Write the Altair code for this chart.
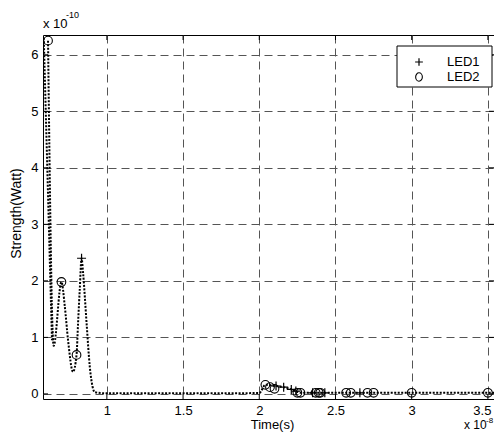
import altair as alt
import pandas as pd

# ---- data (x in 1e-8 s, y in 1e-10 W) ----
curve_x = [0.614, 0.651, 0.702, 0.724, 0.745, 0.778, 0.801, 0.811, 0.822, 0.834,
           0.844, 0.867, 0.888, 0.906, 0.921, 0.998, 1.5, 2.0, 2.04, 2.11,
           2.16, 2.21, 2.24, 2.27, 2.5, 3.0, 3.5, 3.566]
curve_y = [6.25, 0.85, 1.98, 1.55, 0.96, 0.39, 0.69, 1.25, 1.84, 2.40,
           2.14, 1.25, 0.48, 0.13, 0.03, 0.01, 0.01, 0.015, 0.16, 0.14,
           0.12, 0.08, 0.05, 0.02, 0.02, 0.02, 0.02, 0.02]
branch_x = [0.586, 0.640]
branch_y = [6.30, 0.95]

led1_x = [0.834, 2.11, 2.16, 2.21, 2.24, 2.35, 2.43, 2.66]
led1_y = [2.40, 0.14, 0.12, 0.08, 0.05, 0.02, 0.02, 0.02]
led2_x = [0.614, 0.702, 0.801, 2.04, 2.07, 2.10, 2.25, 2.27, 2.37, 2.39,
          2.40, 2.57, 2.60, 2.71, 2.75, 3.0, 3.5]
led2_y = [6.25, 1.98, 0.69, 0.16, 0.12, 0.09, 0.02, 0.02, 0.02, 0.02,
          0.02, 0.02, 0.02, 0.02, 0.02, 0.02, 0.02]

x_ticks = [1, 1.5, 2, 2.5, 3, 3.5]
y_ticks = [0, 1, 2, 3, 4, 5, 6]
legend_labels = ["LED1", "LED2"]
exp_labels = ["x 10", "-10", "-8"]
x_title = "Time(s)"
y_title = "Strength(Watt)"

W, H = 451, 364
FONT = "Liberation Sans"
PLUS = "M-1,0L1,0M0,-1L0,1"

xs = alt.Scale(domain=[0.581, 3.54], nice=False, zero=False)
ys = alt.Scale(domain=[-0.09, 6.35], nice=False, zero=False)

curve_df = pd.DataFrame({"x": curve_x, "y": curve_y})
branch_df = pd.DataFrame({"x": branch_x, "y": branch_y})
led1_df = pd.DataFrame({"x": led1_x, "y": led1_y})
led2_df = pd.DataFrame({"x": led2_x, "y": led2_y})
xt_df = pd.DataFrame({"x": x_ticks})
yt_df = pd.DataFrame({"y": y_ticks})

x_enc = alt.X("x:Q", scale=xs, title=x_title,
              axis=alt.Axis(values=x_ticks, labelExpr="datum.value + ''",
                            labelOffset={"condition": {"test": "datum.value === 3.5",
                                                       "value": -6}, "value": 0},
                            titleY=29, titleX=229, titleBaseline="alphabetic"))
y_enc = alt.Y("y:Q", scale=ys, title=y_title,
              axis=alt.Axis(values=y_ticks, format="d", titleX=-23,
                            titleY=178, titleBaseline="alphabetic",
                            titleFontSize=14))

line_style = dict(color="black", strokeWidth=2, strokeDash=[2, 1.5], clip=True)
curve = alt.Chart(curve_df).mark_line(interpolate="monotone", **line_style).encode(
    x=x_enc, y=y_enc)
branch = alt.Chart(branch_df).mark_line(**line_style).encode(
    x=alt.X("x:Q", scale=xs), y=alt.Y("y:Q", scale=ys))

led1 = alt.Chart(led1_df).mark_point(
    shape=PLUS, size=81, color="black", strokeWidth=1.2, filled=False, opacity=1
).encode(x=alt.X("x:Q", scale=xs), y=alt.Y("y:Q", scale=ys))

led2 = alt.Chart(led2_df).mark_point(
    shape="circle", size=75, color="black", strokeWidth=1.1, filled=False, opacity=1
).encode(x=alt.X("x:Q", scale=xs), y=alt.Y("y:Q", scale=ys))

# inward ticks on all four sides
tick_style = dict(color="black", strokeWidth=1)
xt_bottom = alt.Chart(xt_df).mark_rule(**tick_style).encode(
    x=alt.X("x:Q", scale=xs), y=alt.value(H), y2=alt.value(H - 5))
xt_top = alt.Chart(xt_df).mark_rule(**tick_style).encode(
    x=alt.X("x:Q", scale=xs), y=alt.value(0), y2=alt.value(5))
yt_left = alt.Chart(yt_df).mark_rule(**tick_style).encode(
    y=alt.Y("y:Q", scale=ys), x=alt.value(0), x2=alt.value(5))
yt_right = alt.Chart(yt_df).mark_rule(**tick_style).encode(
    y=alt.Y("y:Q", scale=ys), x=alt.value(W), x2=alt.value(W - 5))

# legend box
leg_df = pd.DataFrame({"label": legend_labels})
leg_box = alt.Chart(leg_df.head(1)).mark_rect(
    fill="white", stroke="black", strokeWidth=1
).encode(x=alt.value(354), x2=alt.value(449), y=alt.value(11), y2=alt.value(52))
leg_sym1 = alt.Chart(leg_df.head(1)).mark_point(
    shape=PLUS, size=60, color="black", strokeWidth=1.2, filled=False, opacity=1
).encode(x=alt.value(376), y=alt.value(27))
leg_sym2 = alt.Chart(leg_df.head(1)).mark_point(
    shape="M-0.8,0A0.8,1,0,1,1,0.8,0A0.8,1,0,1,1,-0.8,0Z", size=70,
    color="black", strokeWidth=1.1, filled=False, opacity=1
).encode(x=alt.value(376), y=alt.value(42))
leg_txt1 = alt.Chart(leg_df.iloc[[0]]).mark_text(
    font=FONT, fontSize=13, align="left", baseline="middle", color="black"
).encode(text="label:N", x=alt.value(404), y=alt.value(27))
leg_txt2 = alt.Chart(leg_df.iloc[[1]]).mark_text(
    font=FONT, fontSize=13, align="left", baseline="middle", color="black"
).encode(text="label:N", x=alt.value(404), y=alt.value(42))

# exponent annotations
exp_df = pd.DataFrame({"t": exp_labels})
def txt(i, x, y, size):
    return alt.Chart(exp_df.iloc[[i]]).mark_text(
        font=FONT, fontSize=size, align="left", baseline="alphabetic", color="black"
    ).encode(text="t:N", x=alt.value(x), y=alt.value(y))

exp_top = txt(0, 0, -7, 13) + txt(1, 23, -17, 9)
exp_bot = txt(0, 421, 394, 12) + txt(2, 443, 388, 8)

chart = alt.layer(
    curve, branch, led1, led2, xt_bottom, xt_top, yt_left, yt_right,
    leg_box, leg_sym1, leg_sym2, leg_txt1, leg_txt2, exp_top, exp_bot
).properties(
    width=W, height=H,
    autosize=alt.AutoSizeParams(type="none"),
    padding={"left": 35, "top": 27, "right": 0, "bottom": 33},
).configure_view(
    stroke="black", strokeWidth=1
).configure_axis(
    grid=True, gridColor="#555", gridDash=[8, 5], gridWidth=1,
    domain=False, ticks=False, labelFont=FONT, labelFontSize=13,
    labelColor="black", titleFont=FONT, titleFontSize=13,
    titleFontWeight="normal", titleColor="black", labelOverlap=False,
    labelFlush=False
).configure_axisX(labelPadding=5).configure_axisY(labelPadding=5)

chart.save("out.html", embed_options={"renderer": "svg", "actions": False})
